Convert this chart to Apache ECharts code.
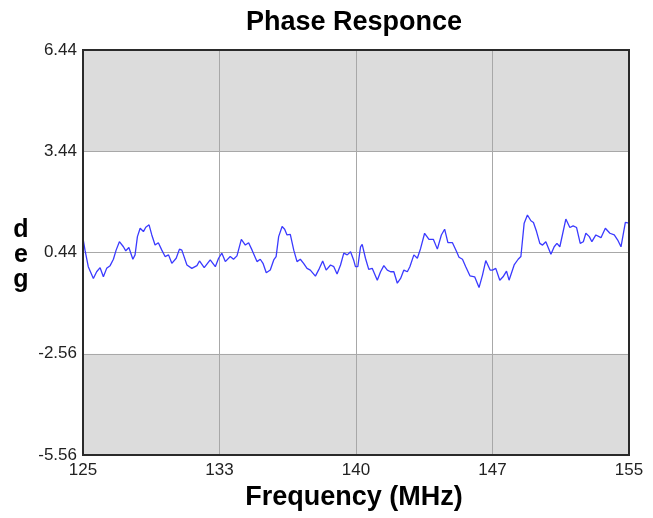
<!DOCTYPE html>
<html><head><meta charset="utf-8">
<script src="https://cdn.jsdelivr.net/npm/echarts@6/dist/echarts.min.js"></script>
<style>html,body{margin:0;padding:0;background:#fff}#c{width:653px;height:518px}</style>
</head><body><div id="c"></div>
<script>
const freqs = [125.00,125.11,125.29,125.57,125.75,125.94,126.12,126.30,126.49,126.67,126.82,127.00,127.22,127.35,127.52,127.74,127.86,127.99,128.14,128.32,128.45,128.63,128.78,128.96,129.14,129.33,129.51,129.70,129.88,130.12,130.30,130.43,130.71,130.98,131.26,131.40,131.66,131.99,132.27,
132.45,132.63,132.82,133.09,133.27,133.46,133.70,133.92,134.10,134.29,134.56,134.74,134.89,135.07,135.29,135.48,135.61,135.75,135.94,136.08,136.21,136.39,136.58,136.76,136.94,137.12,137.31,137.49,137.77,137.99,138.17,138.36,138.60,138.78,138.96,139.15,139.33,139.52,139.70,139.88,
139.97,140.10,140.25,140.34,140.52,140.70,140.89,141.17,141.35,141.53,141.72,141.90,142.08,142.27,142.45,142.63,142.82,142.96,143.18,143.37,143.55,143.77,144.01,144.25,144.47,144.69,144.87,145.05,145.30,145.53,145.66,145.85,146.03,146.26,146.52,146.76,146.95,147.13,147.37,
147.50,147.68,147.90,148.08,148.27,148.41,148.69,148.91,149.06,149.24,149.42,149.61,149.75,149.92,150.10,150.25,150.43,150.71,150.89,151.04,151.20,151.53,151.75,151.93,152.12,152.32,152.49,152.63,152.82,152.96,153.18,153.46,153.70,153.95,154.19,154.38,154.56,154.80,155.00];
const phase = [0.86,0.51,0.02,-0.33,-0.13,-0.01,-0.28,-0.03,0.05,0.24,0.51,0.76,0.61,0.49,0.59,0.24,0.37,0.91,1.16,1.06,1.19,1.26,0.96,0.66,0.73,0.51,0.32,0.37,0.12,0.27,0.54,0.51,0.07,-0.03,0.05,0.19,-0.01,0.22,0.02,
0.27,0.42,0.17,0.32,0.24,0.34,0.83,0.66,0.73,0.51,0.17,0.24,0.12,-0.16,-0.08,0.22,0.32,0.91,1.21,1.13,0.96,0.98,0.51,0.17,0.24,0.12,-0.03,-0.08,-0.26,-0.03,0.19,-0.08,0.07,0.02,-0.20,0.07,0.42,0.37,0.46,0.20,
0.02,0.02,0.61,0.68,0.27,-0.06,-0.03,-0.38,-0.13,0.05,-0.08,-0.13,-0.13,-0.47,-0.33,-0.08,-0.13,0.02,0.37,0.27,0.56,1.01,0.83,0.83,0.54,0.96,1.13,0.73,0.73,0.46,0.30,0.24,0.02,-0.25,-0.28,-0.60,-0.23,0.20,-0.08,
-0.08,-0.03,-0.38,-0.28,-0.11,-0.38,0.07,0.24,0.32,1.31,1.55,1.38,1.33,1.06,0.71,0.66,0.76,0.39,0.61,0.71,0.61,1.43,1.18,1.23,1.18,0.71,0.76,1.01,0.91,0.76,0.96,0.88,1.16,1.01,0.96,0.81,0.61,1.33,1.31];
const xTickLabels = ['125','133','140','147','155'];
const yTicks = [-5.56,-2.56,0.44,3.44,6.44];
const bandColors = ['#dcdcdc','#ffffff','#ffffff','#dcdcdc'];

const data = freqs.map((f,i)=>[f,phase[i]]);
const chart = echarts.init(document.getElementById('c'));
const font = 'Liberation Sans, Arial, sans-serif';
const G = {left:83, right:24, top:50, bottom:63};
chart.setOption({
  animation:false,
  title:{text:'Phase Responce',left:349,top:4,textAlign:'center',textStyle:{fontFamily:font,fontSize:27,fontWeight:'bold',color:'#000'}},
  grid:{left:G.left,right:G.right,top:G.top,bottom:G.bottom,show:false},
  xAxis:{type:'value',min:125,max:155,interval:7.5,
    name:'Frequency (MHz)',nameLocation:'middle',nameGap:28,
    nameTextStyle:{fontFamily:font,fontSize:27,fontWeight:'bold',color:'#000',padding:[0,4,0,0]},
    axisLine:{show:false},axisTick:{show:false},
    axisLabel:{fontFamily:font,fontSize:17,color:'#222',margin:7,
      formatter:(v)=>{const i=Math.round((v-125)/7.5);return xTickLabels[i]||'';}},
    splitLine:{show:true,lineStyle:{color:'#a8a8a8',width:1}}},
  yAxis:{type:'value',min:-5.56,max:6.44,interval:3,
    axisLine:{show:false},axisTick:{show:false},
    axisLabel:{fontFamily:font,fontSize:17,color:'#222',margin:6,
      formatter:(v)=>{let best=yTicks[0];yTicks.forEach(t=>{if(Math.abs(t-v)<Math.abs(best-v))best=t;});return best.toFixed(2);}},
    splitLine:{show:true,lineStyle:{color:'#a8a8a8',width:1}},
    splitArea:{show:true,areaStyle:{color:bandColors}}},
  graphic:[
    {type:'text',x:21,y:218,style:{text:'d\ne\ng',font:'bold 25px '+font,fill:'#000',textAlign:'center',lineHeight:25}},
    {type:'rect',z:100,shape:{x:G.left,y:G.top,width:653-G.left-G.right,height:518-G.top-G.bottom},style:{fill:null,stroke:'#2a2a2a',lineWidth:2}}
  ],
  series:[{type:'line',data:data,showSymbol:false,symbol:'none',
    lineStyle:{color:'#3a3aff',width:1.3},z:3}]
});
</script></body></html>
